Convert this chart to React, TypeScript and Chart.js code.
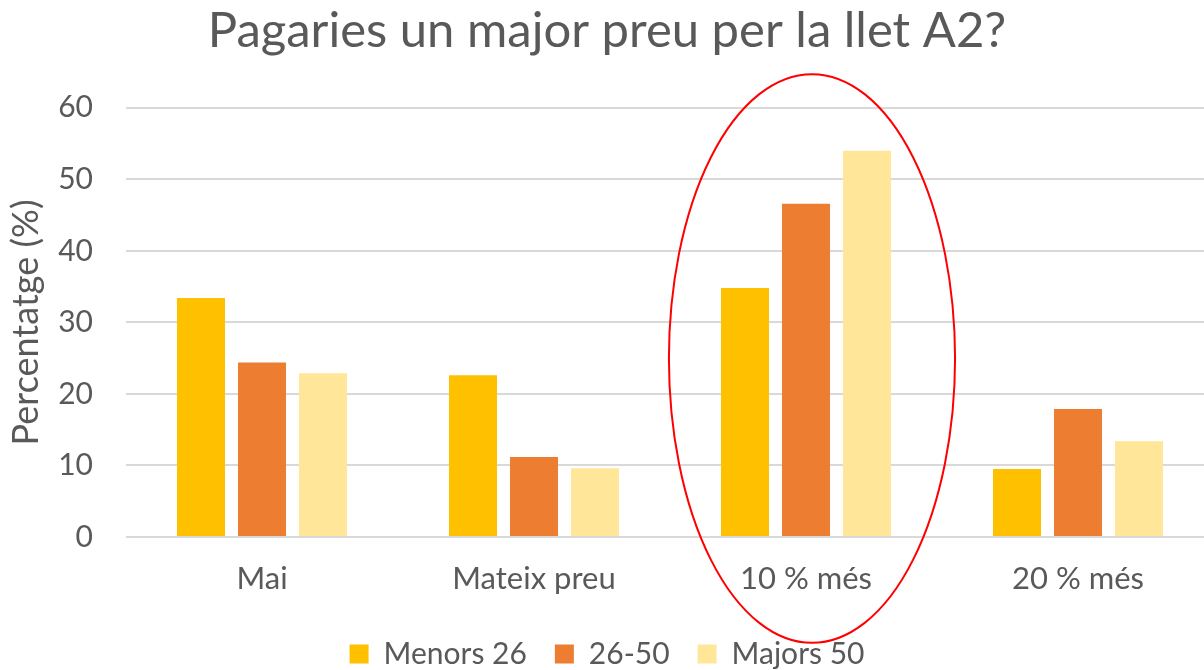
import React, { useEffect, useRef } from "react";
import { Chart, registerables } from "chart.js";

Chart.register(...registerables);

const categories = ["Mai", "Mateix preu", "10 % més", "20 % més"];
const seriesNames = ["Menors 26", "26-50", "Majors 50"];
const menors26 = [33.4, 22.6, 34.8, 9.5];
const entre26i50 = [24.4, 11.2, 46.6, 17.9];
const majors50 = [22.9, 9.6, 54.0, 13.4];
const colors = ["#FFC000", "#ED7D31", "#FFE699"];
const yTicks = [0, 10, 20, 30, 40, 50, 60];
const highlightIndex = 2;

const FONT = "Lato, 'Open Sans', sans-serif";
const TEXT = "#595959";

const ellipsePlugin = {
  id: "ellipseHighlight",
  afterDatasetsDraw(chart: any) {
    const x = chart.scales.x;
    const y = chart.scales.y;
    const ctx = chart.ctx;
    const cx = x.getPixelForValue(highlightIndex + 0.022);
    const rx = x.getPixelForValue(highlightIndex + 0.526) - x.getPixelForValue(highlightIndex);
    const yTop = y.getPixelForValue(64.7);
    const yBot = y.getPixelForValue(-14.8);
    ctx.save();
    ctx.beginPath();
    ctx.ellipse(cx, (yTop + yBot) / 2, rx, (yBot - yTop) / 2, 0, 0, Math.PI * 2);
    ctx.strokeStyle = "#FF0000";
    ctx.lineWidth = 2;
    ctx.stroke();
    ctx.restore();
  },
};

export default function App() {
  const ref = useRef<HTMLCanvasElement>(null);
  useEffect(() => {
    document.body.style.margin = "0";
    const chart = new Chart(ref.current!, {
      type: "bar",
      data: {
        labels: categories,
        datasets: [
          { label: seriesNames[0], data: menors26, backgroundColor: colors[0] },
          { label: seriesNames[1], data: entre26i50, backgroundColor: colors[1] },
          { label: seriesNames[2], data: majors50, backgroundColor: colors[2] },
        ],
      },
      options: {
        animation: false,
        responsive: false,
        layout: { padding: { left: 0, right: 12, top: 0, bottom: 0 } },
        datasets: { bar: { categoryPercentage: 0.673, barPercentage: 0.787 } },
        plugins: {
          title: {
            display: true,
            text: "Pagaries un major preu per la llet A2?",
            color: TEXT,
            font: { family: FONT, size: 49, weight: "normal" },
            padding: { top: 2, bottom: 47 },
          },
          legend: {
            position: "bottom",
            labels: {
              color: TEXT,
              font: { family: FONT, size: 30 },
              boxWidth: 19,
              boxHeight: 19,
              padding: 28,
            },
          },
          tooltip: { enabled: false },
        },
        scales: {
          x: {
            afterFit: (s: any) => {
              s.height = 74;
            },
            grid: { display: false, drawTicks: false },
            border: { display: false },
            ticks: { color: TEXT, font: { family: FONT, size: 31 }, padding: 23 },
          },
          y: {
            min: 0,
            max: 60,
            afterBuildTicks: (s: any) => {
              s.ticks = yTicks.map((v) => ({ value: v }));
            },
            afterFit: (s: any) => {
              s.width = 126;
            },
            grid: { color: "#D9D9D9", lineWidth: 2, drawTicks: false },
            border: { display: false },
            ticks: { color: TEXT, font: { family: FONT, size: 30 }, padding: 33 },
            title: {
              display: true,
              text: "Percentatge (%)",
              color: TEXT,
              font: { family: FONT, size: 36 },
              padding: { top: 5, bottom: 0 },
            },
          },
        },
      },
      plugins: [ellipsePlugin],
    });
    return () => chart.destroy();
  }, []);
  return (
    <div style={{ width: 1204, height: 670, overflow: "hidden", background: "#fff" }}>
      <canvas ref={ref} width={1226} height={679} style={{ display: "block" }} />
    </div>
  );
}
